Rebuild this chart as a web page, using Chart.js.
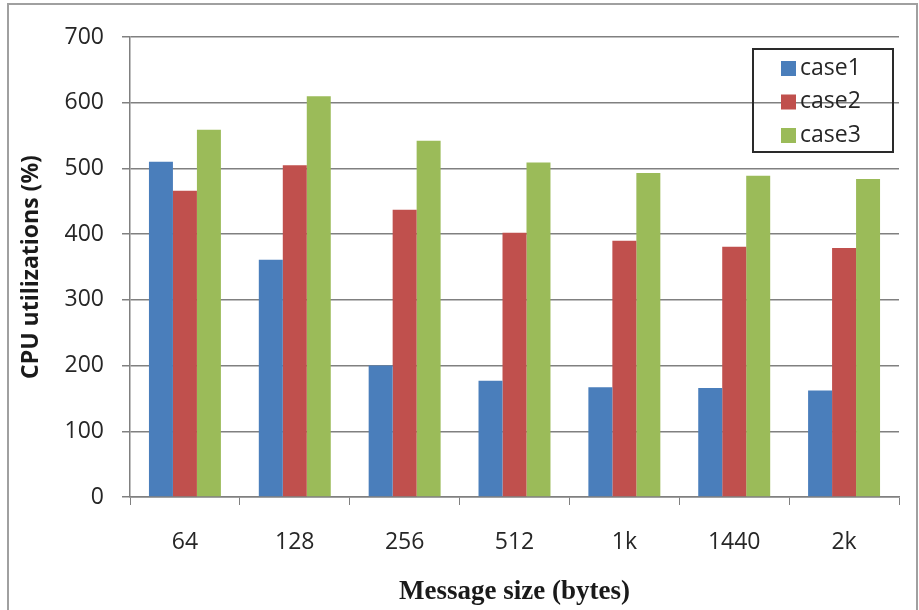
<!DOCTYPE html>
<html>
<head>
<meta charset="utf-8">
<script src="https://cdn.jsdelivr.net/npm/chart.js@4/dist/chart.umd.min.js"></script>
<style>
  html, body { margin: 0; padding: 0; background: #fff; }
  #wrap { width: 919px; height: 610px; }
</style>
</head>
<body>
<div id="wrap"><canvas id="cpuChart" width="919" height="610"></canvas></div>
<script>
// message sizes on the x axis
const sizes = ['64', '128', '256', '512', '1k', '1440', '2k'];
const seriesNames = ['case1', 'case2', 'case3'];

// CPU utilization (%)
const case1 = [510, 361, 200, 177, 167, 166, 162];
const case2 = [466, 505, 437, 402, 390, 381, 379];
const case3 = [559, 610, 542, 509, 493, 489, 484];

const colors = ['#4a7ebb', '#c0504d', '#9bbb59'];

// frame around the whole picture
const framePlugin = {
    id: 'frame',
    beforeDraw(chart) {
        const ctx = chart.ctx;
        ctx.save();
        ctx.fillStyle = '#fff';
        ctx.fillRect(0, 0, chart.width, chart.height);
        ctx.strokeStyle = '#a0a0a0';
        ctx.lineWidth = 2;
        ctx.strokeRect(8, 4, chart.width - 10, chart.height - 3);
        ctx.restore();
    }
};

// legend box sitting inside the plot, top right
const boxLegend = {
    id: 'boxLegend',
    afterDraw(chart) {
        const ctx = chart.ctx;
        const area = chart.chartArea;
        const x = area.right - 146, y = area.top + 12;
        const w = 140, h = 103;
        ctx.save();
        ctx.strokeStyle = '#2a2a2a';
        ctx.lineWidth = 2;
        ctx.strokeRect(x, y, w, h);
        ctx.font = '23px "Open Sans"';
        ctx.textBaseline = 'middle';
        chart.data.datasets.forEach((ds, i) => {
            const cy = y + 19 + i * 33.5;
            ctx.fillStyle = ds.backgroundColor;
            ctx.fillRect(x + 28, cy - 7, 15, 15);
            ctx.fillStyle = '#262626';
            ctx.fillText(ds.label, x + 47, cy);
        });
        ctx.restore();
    }
};

const ctx = document.getElementById('cpuChart').getContext('2d');
new Chart(ctx, {
    type: 'bar',
    data: {
        labels: sizes,
        datasets: [case1, case2, case3].map((vals, i) => ({
            label: seriesNames[i],
            data: vals,
            backgroundColor: colors[i],
            borderWidth: 0,
            barPercentage: 1,
            categoryPercentage: 0.655
        }))
    },
    options: {
        responsive: false,
        animation: false,
        layout: { padding: { left: 0, right: 20, top: 37, bottom: 0 } },
        plugins: {
            legend: { display: false },
            tooltip: { enabled: false }
        },
        scales: {
            x: {
                afterFit: (s) => { s.height = 113; },
                grid: {
                    display: true,
                    drawOnChartArea: false,
                    tickLength: 8,
                    color: '#808080',
                    offset: true
                },
                border: { color: '#808080', width: 1.5 },
                ticks: {
                    padding: 24,
                    color: '#262626',
                    font: { family: 'Open Sans', size: 23 }
                },
                title: {
                    display: true,
                    text: 'Message size (bytes)',
                    color: '#1a1a1a',
                    padding: { top: 0, bottom: 2 },
                    font: { family: 'Liberation Serif', size: 27, weight: 'bold' }
                }
            },
            y: {
                min: 0,
                max: 700,
                afterFit: (s) => { s.width = 130; },
                grid: {
                    color: '#808080',
                    lineWidth: 1.5,
                    tickLength: 8
                },
                border: { color: '#808080', width: 1.5 },
                ticks: {
                    stepSize: 100,
                    padding: 18,
                    color: '#262626',
                    font: { family: 'Open Sans', size: 23 }
                },
                title: {
                    display: true,
                    text: 'CPU utilizations (%)',
                    color: '#1a1a1a',
                    padding: { top: 18, bottom: 0 },
                    font: { family: 'Open Sans', size: 23, weight: 'bold' }
                }
            }
        }
    },
    plugins: [framePlugin, boxLegend]
});
</script>
</body>
</html>
